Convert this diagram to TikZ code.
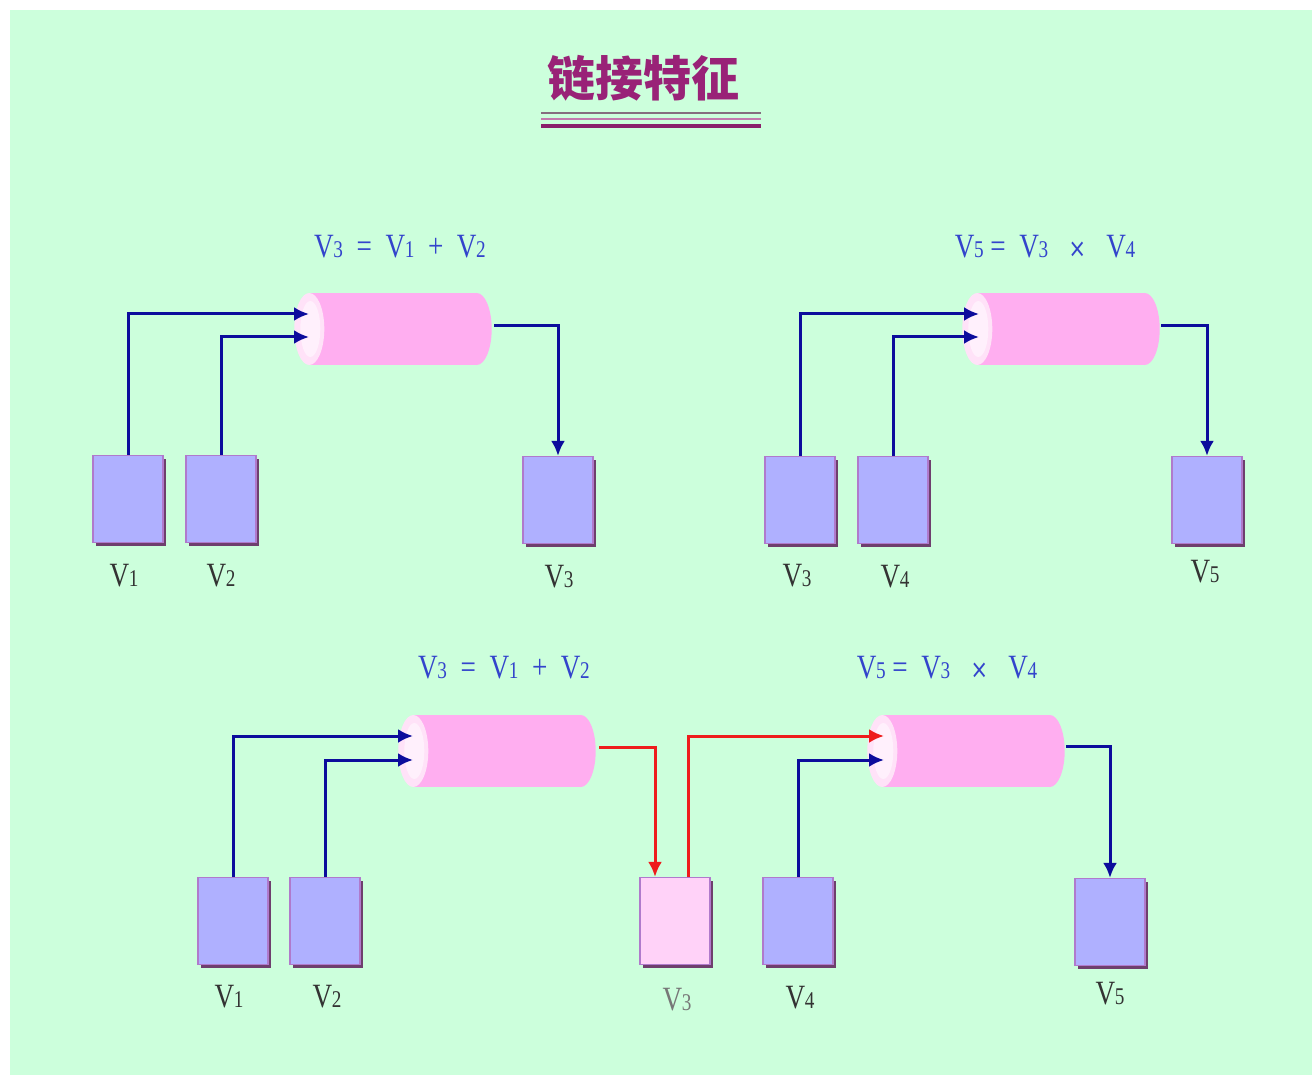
\documentclass[tikz,border=0pt]{standalone}
\usepackage{fontspec}
\setmainfont{Liberation Serif}
\newfontfamily\cjk{Noto Sans CJK SC}
\newfontfamily\symfont{DejaVu Sans}
\usetikzlibrary{arrows.meta,shadows,calc}
\definecolor{bg}{HTML}{CCFFDC}
\definecolor{boxfill}{HTML}{AFB0FF}
\definecolor{boxline}{HTML}{B07ACC}
\definecolor{boxshade}{HTML}{6E3F6E}
\definecolor{pinkfill}{HTML}{FFD2F8}
\definecolor{cylbody}{HTML}{FFAEF0}
\definecolor{cylend}{HTML}{FFE2F8}
\definecolor{cylendin}{HTML}{FFF0FC}
\definecolor{navy}{HTML}{0C0C9C}
\definecolor{redline}{HTML}{EE1C1C}
\definecolor{formula}{HTML}{3344CC}
\definecolor{lbl}{HTML}{333333}
\definecolor{lblgray}{HTML}{777777}
\definecolor{titlec}{HTML}{992277}
\newcommand\vsub[1]{V\kern-0.5pt{\fontsize{24}{24}\selectfont #1}}
\newcommand\vtxt[1]{\scalebox{0.8}[1]{\fontsize{34}{34}\selectfont #1}}
\newcommand\timessym{{\symfont\fontsize{26}{26}\selectfont ×}}
% cylinder: invisible named frame node, then its body and end face
\newcommand\cylnode[3]{%
  \node[cylframe] (#1) at (#2,#3) {};
  \fill[cylbody] ($(#1.north west)+(15,0)$) rectangle ($(#1.south east)+(-15,0)$);
  \fill[cylbody] ($(#1.east)+(-15,0)$) ellipse [x radius=15pt, y radius=36pt];
  \fill[cylend] ($(#1.west)+(15,0)$) ellipse [x radius=15pt, y radius=36pt];
  \fill[cylendin] ($(#1.west)+(16,0)$) ellipse [x radius=10pt, y radius=28pt];
}
\begin{document}
\begin{tikzpicture}[x=1pt,y=-1pt,
  vbox/.style={rectangle, draw=boxline, line width=1.2pt, fill=boxfill,
    minimum width=70pt, minimum height=87pt, inner sep=0pt,
    drop shadow={shadow xshift=3pt, shadow yshift=-3pt, fill=boxshade, opacity=1}},
  pbox/.style={vbox, fill=pinkfill},
  cylframe/.style={rectangle, minimum width=197pt, minimum height=72pt, inner sep=0pt, draw=none},
  lab/.style={text=lbl, inner sep=0pt},
  form/.style={text=formula, inner sep=0pt},
  blueconn/.style={draw=navy, line width=3pt, -{Latex[length=15pt,width=14pt]}},
  redconn/.style={draw=redline, line width=3pt, -{Latex[length=15pt,width=14pt]}}]
\useasboundingbox (0,0) rectangle (1312,1075);
\fill[bg] (10,10) rectangle (1312,1075);

% title
\node[text=titlec, inner sep=0pt] (title) at (643,78) {\cjk\bfseries\fontsize{48}{48}\selectfont 链接特征};
\draw[color=gray!80!titlec, line width=1.5pt] (541,113) -- (761,113);
\draw[color=titlec!60, line width=2.5pt] (541,119) -- (761,119);
\draw[color=titlec!90!black, line width=4pt] (541,126) -- (761,126);

% ===== top-left group =====
\node[form] (f1) at (400,247) {\vtxt{\vsub{3}\ \ =\ \ \vsub{1}\ \ +\ \ \vsub{2}}};
\cylnode{c1}{393}{329}
\node[vbox] (a1) at (128,499) {};
\node[vbox] (a2) at (221,499) {};
\node[vbox] (a3) at (558,500) {};
\node[lab] (la1) at (124,576) {\vtxt{\vsub{1}}};
\node[lab] (la2) at (221,576) {\vtxt{\vsub{2}}};
\node[lab] (la3) at (559,577) {\vtxt{\vsub{3}}};
\coordinate (c1i1) at (309,314);
\coordinate (c1i2) at (309,337);
\coordinate (c1o) at (494,326);
\draw[blueconn] (a1.north) |- (c1i1);
\draw[blueconn] (a2.north) |- (c1i2);
\draw[blueconn] (c1o) -| (a3.north);

% ===== top-right group =====
\node[form] (f2) at (1045,247) {\vtxt{\vsub{5}\ =\ \ \vsub{3}\ \ \ \timessym\ \ \ \vsub{4}}};
\cylnode{c2}{1061}{329}
\node[vbox] (b1) at (800,500) {};
\node[vbox] (b2) at (893,500) {};
\node[vbox] (b3) at (1207,500) {};
\node[lab] (lb1) at (797,576) {\vtxt{\vsub{3}}};
\node[lab] (lb2) at (895,577) {\vtxt{\vsub{4}}};
\node[lab] (lb3) at (1205,572) {\vtxt{\vsub{5}}};
\coordinate (c2i1) at (979,314);
\coordinate (c2i2) at (979,337);
\coordinate (c2o) at (1161,326);
\draw[blueconn] (b1.north) |- (c2i1);
\draw[blueconn] (b2.north) |- (c2i2);
\draw[blueconn] (c2o) -| (b3.north);

% ===== bottom group =====
\node[form] (f3) at (504,668) {\vtxt{\vsub{3}\ \ =\ \ \vsub{1}\ \ +\ \ \vsub{2}}};
\node[form] (f4) at (947,668) {\vtxt{\vsub{5}\ =\ \ \vsub{3}\ \ \ \timessym\ \ \ \vsub{4}}};
\cylnode{c3}{497}{751}
\cylnode{c4}{966}{751}
\node[vbox] (d1) at (233,921) {};
\node[vbox] (d2) at (325,921) {};
\node[pbox] (d3) at (675,921) {};
\node[vbox] (d4) at (798,921) {};
\node[vbox] (d5) at (1110,922) {};
\node[lab] (ld1) at (229,997) {\vtxt{\vsub{1}}};
\node[lab] (ld2) at (327,997) {\vtxt{\vsub{2}}};
\node[lab, text=lblgray] (ld3) at (677,1000) {\vtxt{\vsub{3}}};
\node[lab] (ld4) at (800,998) {\vtxt{\vsub{4}}};
\node[lab] (ld5) at (1110,994) {\vtxt{\vsub{5}}};
\coordinate (c3i1) at (413,736);
\coordinate (c3i2) at (413,760);
\coordinate (c3o) at (599,747);
\coordinate (c4i1) at (884,736);
\coordinate (c4i2) at (884,760);
\coordinate (c4o) at (1066,746);
\draw[blueconn] (d1.north) |- (c3i1);
\draw[blueconn] (d2.north) |- (c3i2);
\draw[redconn] (c3o) -| ($(d3.north)+(-20,0)$);
\draw[redconn] ($(d3.north)+(13,0)$) |- (c4i1);
\draw[blueconn] (d4.north) |- (c4i2);
\draw[blueconn] (c4o) -| (d5.north);
\end{tikzpicture}
\end{document}
